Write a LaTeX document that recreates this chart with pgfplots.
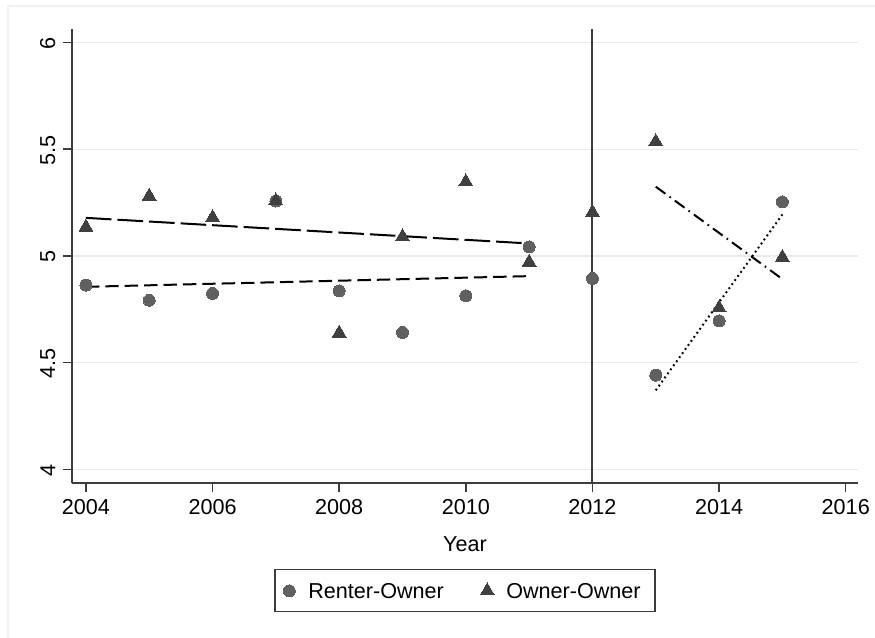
\documentclass[border=0pt]{standalone}
\usepackage{fontspec}
\setmainfont{Liberation Sans}
\usepackage{pgfplots}
\pgfplotsset{compat=1.18}
\definecolor{rcol}{HTML}{606060}
\definecolor{ocol}{HTML}{404040}
\definecolor{gridc}{HTML}{EAEAEA}
\definecolor{axc}{HTML}{3C3C3C}
\definecolor{framec}{HTML}{F0F0F0}
\begin{document}
\fontsize{10.8bp}{13bp}\selectfont
\begin{tikzpicture}
\draw[framec, line width=0.7bp] (4bp,0bp) -- (4bp,316bp) -- (437.5bp,316bp);
\begin{axis}[
  at={(36bp,77.5bp)}, anchor=south west,
  scale only axis, width=393bp, height=227bp,
  xmin=2003.78, xmax=2016.194, ymin=3.9357, ymax=6.063,
  axis x line=bottom, axis y line=left,
  axis line style={-, axc, line width=0.7bp},
  xtick={2004,2006,...,2016}, ytick={4,4.5,5,5.5,6},
  tick align=outside, major tick length=4.5bp,
  tick style={axc, line width=0.7bp},
  ymajorgrids, grid style={gridc, line width=0.65bp},
  /pgf/number format/assume math mode=true,
  /pgf/number format/set thousands separator={},
  yticklabel style={rotate=90, anchor=south, xshift=-0.5bp},
  xlabel={Year},
  xlabel style={at={(axis description cs:0.5,0)}, anchor=base, yshift=-34.35bp},
  legend columns=2,
  legend cell align=left,
  legend style={at={(axis description cs:0.5,0)}, anchor=center, yshift=-53.9bp,
    draw=axc, line width=0.6bp, inner xsep=7.15bp, inner ysep=6.6bp,
    nodes={inner sep=0pt, text height=7.73bp, text depth=0pt},
    /tikz/every even column/.append style={column sep=21.65bp}},
  legend image code/.code={\path[draw=none, fill=none] (0bp,0bp) -- (9.5bp,0bp); \draw[#1, overlay] plot coordinates {(0bp,0bp)};},
]
\addplot[only marks, mark=*, mark size=3bp, color=rcol, mark options={fill=rcol, draw=rcol, line width=0pt}]
  coordinates {(2004,4.863) (2005,4.792) (2006,4.824) (2007,5.257) (2008,4.836) (2009,4.641) (2010,4.813) (2011,5.042) (2012,4.894) (2013,4.441) (2014,4.695) (2015,5.253)};
\addlegendentry{Renter-Owner}
\addplot[only marks, mark=triangle*, mark size=4bp, color=ocol, mark options={fill=ocol, draw=ocol, line width=0pt}]
  coordinates {(2004,5.135) (2005,5.28) (2006,5.18) (2007,5.258) (2008,4.638) (2009,5.09) (2010,5.347) (2011,4.97) (2012,5.204) (2013,5.535) (2014,4.756) (2015,4.993)};
\addlegendentry{Owner-Owner}
\addplot[forget plot, black, line width=1bp, dash pattern=on 12.8bp off 3bp] coordinates {(2004,5.178) (2011,5.058)};
\addplot[forget plot, black, line width=1bp, dash pattern=on 6.7bp off 3bp] coordinates {(2004,4.855) (2011,4.905)};
\addplot[forget plot, black, line width=1bp, dash pattern=on 6bp off 2.5bp on 0.8bp off 2.5bp] coordinates {(2013,5.324) (2015,4.891)};
\addplot[forget plot, black, line width=1bp, dash pattern=on 0.9bp off 1.6bp] coordinates {(2013,4.370) (2015,5.194)};
\addplot[forget plot, axc, line width=1bp] coordinates {(2012,3.9357) (2012,6.063)};
\end{axis}
\pgfresetboundingbox
\path (0bp,0bp) rectangle (437.5bp,319bp);
\end{tikzpicture}
\end{document}
